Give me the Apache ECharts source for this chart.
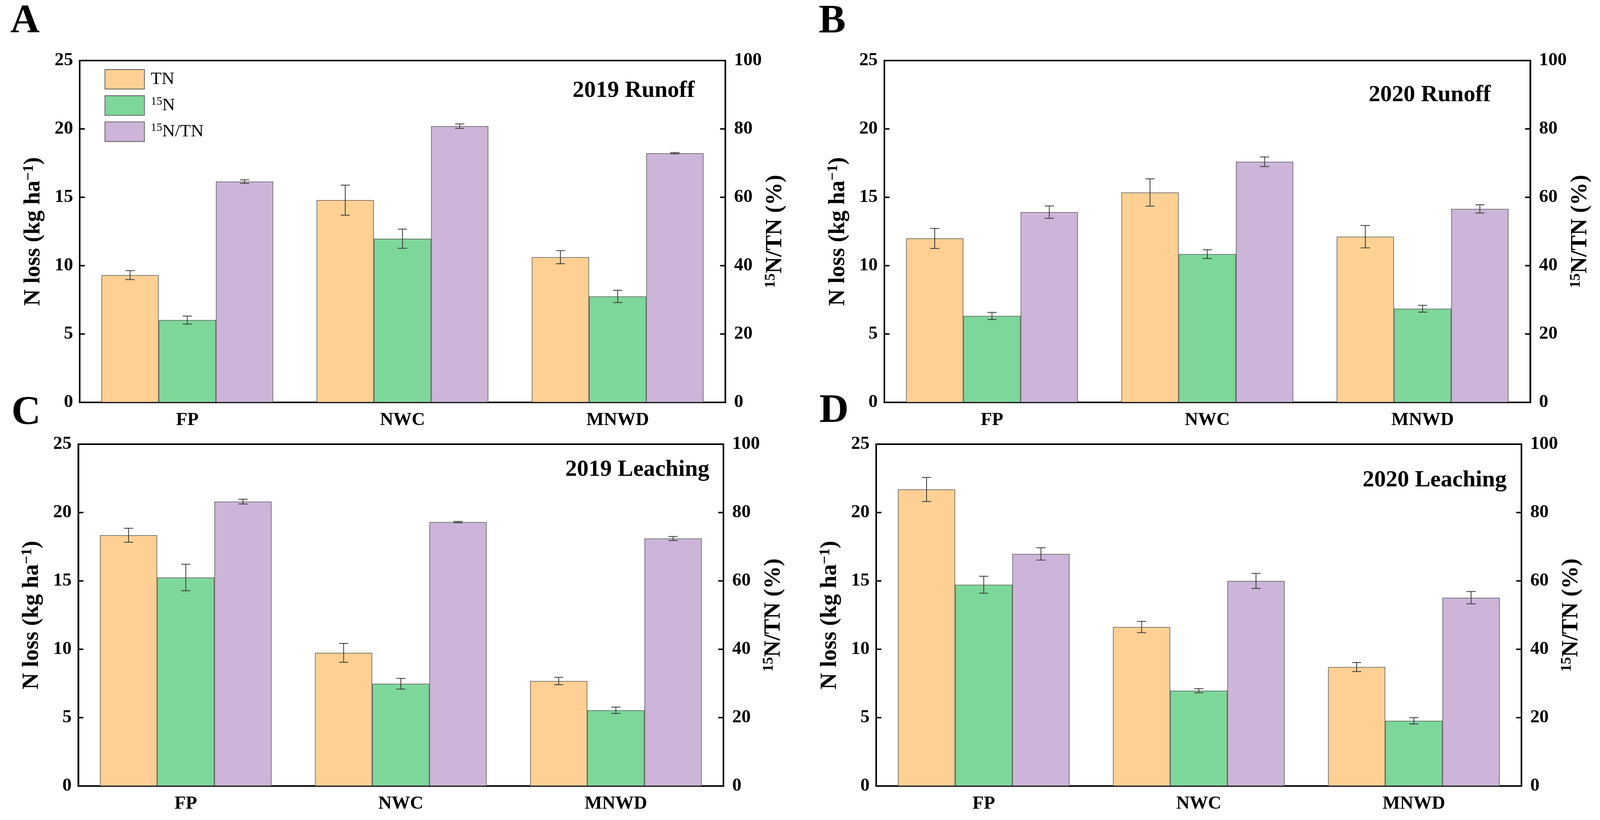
<!DOCTYPE html>
<html>
<head>
<meta charset="utf-8">
<script src="https://cdn.jsdelivr.net/npm/echarts@6.0.0/dist/echarts.min.js"></script>
<style>
html,body{margin:0;padding:0;background:#ffffff;overflow:hidden;width:100%;height:100%;}
#chart{width:100vw;height:100vh;}
</style>
</head>
<body>
<div id="chart"></div>
<script>
// ---------------- data ----------------
const categories = ['FP', 'NWC', 'MNWD'];
const seriesNames = ['TN', '15N', '15N/TN'];
const leftAxisTicks = [0, 5, 10, 15, 20, 25];
const rightAxisTicks = [0, 20, 40, 60, 80, 100];

// A: 2019 Runoff
const tnA = [9.31, 14.79, 10.62];
const tnErrA = [0.33, 1.10, 0.48];
const n15A = [6.02, 11.97, 7.75];
const n15ErrA = [0.29, 0.70, 0.45];
const ratioA = [64.6, 80.8, 72.9];
const ratioErrA = [0.5, 0.65, 0.2];

// B: 2020 Runoff
const tnB = [11.99, 15.35, 12.12];
const tnErrB = [0.73, 1.00, 0.82];
const n15B = [6.32, 10.84, 6.85];
const n15ErrB = [0.26, 0.32, 0.25];
const ratioB = [55.65, 70.4, 56.6];
const ratioErrB = [1.8, 1.4, 1.2];

// C: 2019 Leaching
const tnC = [18.34, 9.74, 7.68];
const tnErrC = [0.51, 0.69, 0.27];
const n15C = [15.25, 7.48, 5.54];
const n15ErrC = [0.97, 0.39, 0.23];
const ratioC = [83.2, 77.2, 72.4];
const ratioErrC = [0.7, 0.2, 0.6];

// D: 2020 Leaching
const tnD = [21.69, 11.63, 8.70];
const tnErrD = [0.88, 0.41, 0.33];
const n15D = [14.72, 6.97, 4.77];
const n15ErrD = [0.62, 0.15, 0.23];
const ratioD = [67.9, 60.0, 55.1];
const ratioErrD = [1.8, 2.2, 1.8];

const panelLetters = ['A', 'B', 'C', 'D'];
const panelNotes = ['2019 Runoff', '2020 Runoff', '2019 Leaching', '2020 Leaching'];

// ---------------- layout / style ----------------
const chartEl = document.getElementById('chart');
const chart = echarts.init(chartEl, null, {renderer: 'canvas'});
const W = chart.getWidth(), H = chart.getHeight();
const SX = W / 4335, SY = H / 2099, S = Math.min(SX, SY);
const px = v => v * SX, py = v => v * SY, pf = v => v * S;

const FONT = '"Liberation Serif", "Times New Roman", Times, serif';
const COLORS = ['#FFD093', '#7ED79A', '#CDB5D9'];
const BAR_FRAC = 0.266;

const panelData = [
  {v: [tnA, n15A, ratioA], e: [tnErrA, n15ErrA, ratioErrA]},
  {v: [tnB, n15B, ratioB], e: [tnErrB, n15ErrB, ratioErrB]},
  {v: [tnC, n15C, ratioC], e: [tnErrC, n15ErrC, ratioErrC]},
  {v: [tnD, n15D, ratioD], e: [tnErrD, n15ErrD, ratioErrD]}
];
const gridPos = [
  {left: 216, top: 155, width: 1749, height: 875},
  {left: 2396, top: 155, width: 1750, height: 875},
  {left: 212, top: 1137, width: 1748, height: 875},
  {left: 2374, top: 1137, width: 1748, height: 875}
];
const letterPos = [[28, 4], [2218, 4], [31, 1006], [2220, 1001]];
const notePos = [[1882, 203], [4039, 214], [1922, 1173], [4082, 1200]];

const titleRich = {
  t: {fontFamily: FONT, fontWeight: 'bold', fontSize: pf(62), lineHeight: pf(66), color: '#000'},
  s: {fontFamily: FONT, fontWeight: 'bold', fontSize: pf(40), lineHeight: pf(40), verticalAlign: 'top', color: '#000'}
};

function errRender(slot) {
  return function (params, api) {
    const i = api.value(0);
    const hi = api.value(1);
    const lo = api.value(2);
    const band = api.size([1, 0])[0];
    const off = (slot - 1) * band * BAR_FRAC;
    const pTop = api.coord([i, hi]);
    const pBot = api.coord([i, lo]);
    const x = pTop[0] + off;
    const cw = band * BAR_FRAC * 0.08;
    const st = {stroke: '#3a3a3a', lineWidth: pf(2.2)};
    return {
      type: 'group',
      children: [
        {type: 'line', shape: {x1: x, y1: pTop[1], x2: x, y2: pBot[1]}, style: st},
        {type: 'line', shape: {x1: x - cw, y1: pTop[1], x2: x + cw, y2: pTop[1]}, style: st},
        {type: 'line', shape: {x1: x - cw, y1: pBot[1], x2: x + cw, y2: pBot[1]}, style: st}
      ]
    };
  };
}

const grids = [], xAxes = [], yAxes = [], series = [], graphics = [];

panelData.forEach((pd, p) => {
  const g = gridPos[p];
  grids.push({
    show: true, borderColor: '#000', borderWidth: pf(4), backgroundColor: 'transparent',
    left: px(g.left), top: py(g.top), width: px(g.width), height: py(g.height),
    containLabel: false
  });
  xAxes.push({
    type: 'category', gridIndex: p, data: categories,
    axisLine: {lineStyle: {color: '#000', width: pf(4)}},
    axisTick: {inside: true, alignWithLabel: true, length: pf(18), lineStyle: {color: '#000', width: pf(3)}},
    axisLabel: {fontFamily: FONT, fontWeight: 'bold', fontSize: pf(50), color: '#000', margin: pf(24)},
    splitLine: {show: false}
  });
  yAxes.push({
    type: 'value', gridIndex: p, position: 'left',
    min: leftAxisTicks[0], max: leftAxisTicks[leftAxisTicks.length - 1], interval: leftAxisTicks[1] - leftAxisTicks[0],
    axisLine: {show: true, lineStyle: {color: '#000', width: pf(4)}},
    axisTick: {show: true, inside: true, length: pf(14), lineStyle: {color: '#000', width: pf(4)}},
    axisLabel: {fontFamily: FONT, fontWeight: 'bold', fontSize: pf(50), color: '#000', margin: pf(18)},
    splitLine: {show: false},
    name: '{t|N loss (kg ha}{s|\u22121}{t|)}',
    nameLocation: 'middle', nameRotate: 90, nameGap: pf(92),
    nameTextStyle: {rich: titleRich}
  });
  yAxes.push({
    type: 'value', gridIndex: p, position: 'right',
    min: rightAxisTicks[0], max: rightAxisTicks[rightAxisTicks.length - 1], interval: rightAxisTicks[1] - rightAxisTicks[0],
    axisLine: {show: true, lineStyle: {color: '#000', width: pf(4)}},
    axisTick: {show: true, inside: true, length: pf(14), lineStyle: {color: '#000', width: pf(4)}},
    axisLabel: {fontFamily: FONT, fontWeight: 'bold', fontSize: pf(50), color: '#000', margin: pf(24)},
    splitLine: {show: false},
    name: '{s|15}{t|N/TN (%)}',
    nameLocation: 'middle', nameRotate: 90, nameGap: pf(92),
    nameTextStyle: {rich: titleRich}
  });

  for (let s = 0; s < 3; s++) {
    const yIdx = s < 2 ? 2 * p : 2 * p + 1;
    series.push({
      type: 'bar', name: seriesNames[s], xAxisIndex: p, yAxisIndex: yIdx,
      data: pd.v[s], barWidth: (BAR_FRAC * 100) + '%', barGap: '0%',
      itemStyle: {color: COLORS[s], borderColor: '#5a5a5a', borderWidth: pf(1.6)},
      emphasis: {disabled: true}, z: 2
    });
  }
  for (let s = 0; s < 3; s++) {
    const yIdx = s < 2 ? 2 * p : 2 * p + 1;
    series.push({
      type: 'custom', name: seriesNames[s] + ' err', xAxisIndex: p, yAxisIndex: yIdx,
      renderItem: errRender(s),
      encode: {x: 0, y: [1, 2]},
      data: categories.map((c, k) => [k, pd.v[s][k] + pd.e[s][k], pd.v[s][k] - pd.e[s][k]]),
      z: 5, silent: true
    });
  }

  graphics.push({
    type: 'text', left: px(letterPos[p][0]), top: py(letterPos[p][1]),
    style: {text: panelLetters[p], fontFamily: FONT, fontWeight: 'bold', fontSize: pf(110), fill: '#000'}
  });
  graphics.push({
    type: 'text', right: W - px(notePos[p][0]), top: py(notePos[p][1]),
    style: {text: panelNotes[p], fontFamily: FONT, fontWeight: 'bold', fontSize: pf(63), fill: '#000'}
  });
});

const option = {
  animation: false,
  backgroundColor: '#ffffff',
  textStyle: {fontFamily: FONT},
  grid: grids,
  xAxis: xAxes,
  yAxis: yAxes,
  legend: {
    data: seriesNames,
    orient: 'vertical', left: px(278), top: py(172),
    itemWidth: pf(107), itemHeight: pf(53), itemGap: pf(16),
    selectedMode: false, icon: 'rect',
    itemStyle: {borderColor: '#5a5a5a', borderWidth: pf(2)},
    formatter: function (n) {
      if (n === 'TN') return '{t|TN}';
      if (n === '15N') return '{s|15}{t|N}';
      return '{s|15}{t|N/TN}';
    },
    textStyle: {
      padding: [0, 0, 0, pf(12)],
      rich: {
        t: {fontFamily: FONT, fontSize: pf(48), lineHeight: pf(52), color: '#000'},
        s: {fontFamily: FONT, fontSize: pf(31), lineHeight: pf(31), verticalAlign: 'top', color: '#000'}
      }
    }
  },
  graphic: graphics,
  series: series
};

chart.setOption(option);
</script>
</body>
</html>
